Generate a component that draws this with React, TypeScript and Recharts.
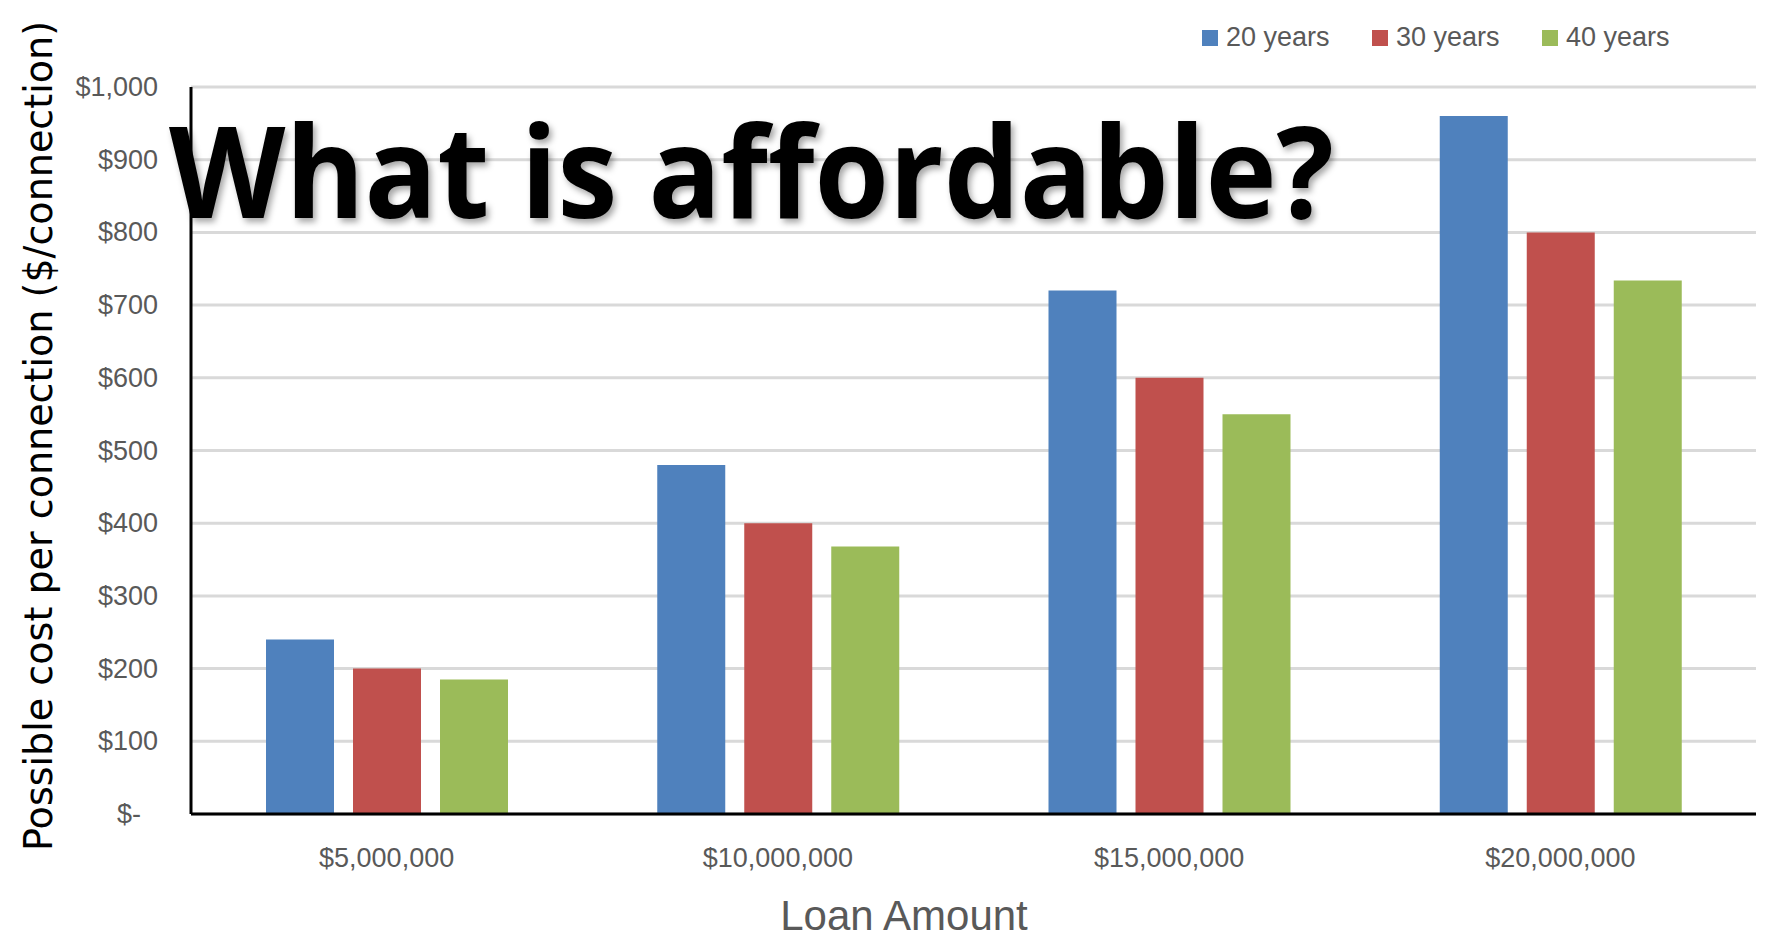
import { Bar, BarChart, CartesianGrid, Legend, XAxis, YAxis } from "recharts";

const loanAmounts = ["$5,000,000", "$10,000,000", "$15,000,000", "$20,000,000"];
const years20 = [240, 480, 720, 960];
const years30 = [200, 400, 600, 800];
const years40 = [185, 368, 550, 734];
const yTicks = [0, 100, 200, 300, 400, 500, 600, 700, 800, 900, 1000];

const seriesNames = ["20 years", "30 years", "40 years"];
const seriesColors = ["#4F81BD", "#C0504D", "#9BBB59"];

const data = loanAmounts.map((loan, i) => ({
  loan,
  y20: years20[i],
  y30: years30[i],
  y40: years40[i],
}));

const FONT = "'Liberation Sans', Arial, sans-serif";
const GREY = "#595959";

function money(v: number) {
  return v === 0 ? "$-" : "$" + v.toLocaleString("en-US");
}

function YTick({ x, y, payload }: any) {
  const zero = payload.value === 0;
  return (
    <text x={zero ? x - 17 : x} y={y} dy={9} textAnchor="end" fill={GREY} fontSize={27} fontFamily={FONT}>
      {money(payload.value)}
    </text>
  );
}

function LegendBox() {
  return (
    <div style={{ display: "flex", fontFamily: FONT, fontSize: 27, color: GREY }}>
      {seriesNames.map((name, i) => (
        <div key={name} style={{ display: "flex", alignItems: "center", width: 170 }}>
          <span style={{ width: 16, height: 16, background: seriesColors[i], marginRight: 8 }} />
          <span>{name}</span>
        </div>
      ))}
    </div>
  );
}

export default function App() {
  return (
    <div style={{ position: "absolute", left: 0, top: 0, width: 1765, height: 943, background: "#fff" }}>
      <BarChart
        width={1765}
        height={943}
        data={data}
        margin={{ top: 87, right: 9, left: 0, bottom: 0 }}
        barSize={68}
        barGap={19}
      >
        <CartesianGrid vertical={false} stroke="#D9D9D9" strokeWidth={3} />
        <XAxis
          dataKey="loan"
          height={129}
          tickLine={false}
          tickSize={0}
          tickMargin={34}
          axisLine={{ stroke: "#000", strokeWidth: 3 }}
          tick={{ fill: GREY, fontSize: 27, fontFamily: FONT }}
          label={{
            content: () => (
              <text x={904} y={930} textAnchor="middle" fill={GREY} fontSize={42} fontFamily={FONT}>
                Loan Amount
              </text>
            ),
          }}
        />
        <YAxis
          width={191}
          domain={[0, 1000]}
          ticks={yTicks}
          interval={0}
          tickLine={false}
          tickSize={0}
          tickMargin={33}
          axisLine={{ stroke: "#000", strokeWidth: 3 }}
          tick={<YTick />}
          label={{
            content: () => (
              <text
                x={52}
                y={436}
                transform="rotate(-90 52 436)"
                textAnchor="middle"
                fontSize={39}
                fontFamily="'DejaVu Sans', sans-serif"
                fill="#000"
                textLength={830}
                lengthAdjust="spacingAndGlyphs"
              >
                Possible cost per connection ($/connection)
              </text>
            ),
          }}
        />
        <Legend
          verticalAlign="middle"
          content={<LegendBox />}
          wrapperStyle={{ top: 22, left: 1202, width: 560 }}
        />
        <Bar dataKey="y20" name={seriesNames[0]} fill={seriesColors[0]} isAnimationActive={false} />
        <Bar dataKey="y30" name={seriesNames[1]} fill={seriesColors[1]} isAnimationActive={false} />
        <Bar dataKey="y40" name={seriesNames[2]} fill={seriesColors[2]} isAnimationActive={false} />
      </BarChart>
      <svg width={1765} height={943} style={{ position: "absolute", left: 0, top: 0, pointerEvents: "none" }}>
        <defs>
          <filter id="titleShadow" x="-5%" y="-20%" width="110%" height="150%">
            <feDropShadow dx={3} dy={4} stdDeviation={3} floodColor="#000" floodOpacity={0.35} />
          </filter>
        </defs>
        <text
          x={169}
          y={218}
          fontSize={128}
          fontWeight="bold"
          fontFamily="'Open Sans', sans-serif"
          fill="#000"
          textLength={1165}
          lengthAdjust="spacingAndGlyphs"
          filter="url(#titleShadow)"
        >
          What is affordable?
        </text>
      </svg>
    </div>
  );
}
